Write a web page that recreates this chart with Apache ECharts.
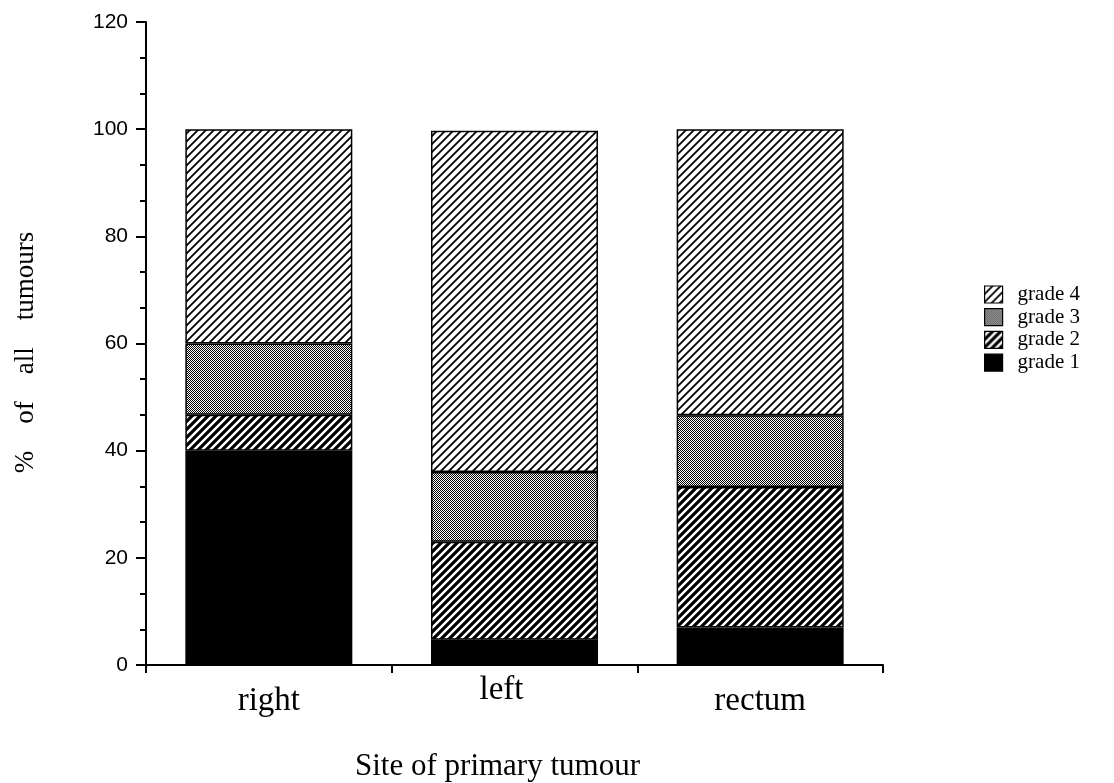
<!DOCTYPE html>
<html>
<head>
<meta charset="utf-8">
<script src="https://cdn.jsdelivr.net/npm/echarts@6/dist/echarts.min.js"></script>
<style>
  html, body { margin: 0; padding: 0; background: #fff; }
  #main { width: 1114px; height: 783px; }
</style>
</head>
<body>
<div id="main"></div>
<script>
    var categories = ['right', 'left', 'rectum'];
    var grade1 = [40, 4.7, 7];
    var grade2 = [6.7, 18.3, 26.2];
    var grade3 = [13.3, 13, 13.4];
    var grade4 = [40, 63.7, 53.4];
    var legendNames = ['grade 4', 'grade 3', 'grade 2', 'grade 1'];

    /*斜线填充*/
    function hatch(size, lw) {
        var c = document.createElement('canvas');
        c.width = size;
        c.height = size;
        var ctx = c.getContext('2d');
        ctx.fillStyle = '#fff';
        ctx.fillRect(0, 0, size, size);
        ctx.strokeStyle = '#000';
        ctx.lineWidth = lw;
        ctx.beginPath();
        ctx.moveTo(0, size); ctx.lineTo(size, 0);
        ctx.moveTo(-size / 2, size / 2); ctx.lineTo(size / 2, -size / 2);
        ctx.moveTo(size / 2, size * 1.5); ctx.lineTo(size * 1.5, size / 2);
        ctx.stroke();
        return c;
    }
    /*网点填充*/
    function checker(cell) {
        var c = document.createElement('canvas');
        c.width = cell * 2;
        c.height = cell * 2;
        var ctx = c.getContext('2d');
        ctx.fillStyle = '#fff';
        ctx.fillRect(0, 0, cell * 2, cell * 2);
        ctx.fillStyle = '#000';
        ctx.fillRect(0, 0, cell, cell);
        ctx.fillRect(cell, cell, cell, cell);
        return c;
    }

    var fills = {
        'grade 1': '#000',
        'grade 2': {image: hatch(8, 3.2), repeat: 'repeat'},
        'grade 3': {image: checker(1), repeat: 'repeat'},
        'grade 4': {image: hatch(8, 1.8), repeat: 'repeat'}
    };

    function bar(name, values) {
        return {
            name: name,
            type: 'bar',
            stack: 'all',
            barWidth: 167,
            data: values,
            itemStyle: {
                color: fills[name],
                borderColor: '#000',
                borderWidth: 1.5
            },
            emphasis: {disabled: true}
        };
    }

    // the "left" label sits a bit higher and to the left in the original
    var labelTweak = {
        left: {lineHeight: 10, padding: [0, 26, 0, 0]}
    };
    var xData = categories.map(function (c) {
        return labelTweak[c] ? {value: c, textStyle: labelTweak[c]} : c;
    });

    var serif = 'Liberation Serif';
    var sans = 'Liberation Sans';

    var myChart = echarts.init(document.getElementById('main'));
    var option = {
        animation: false,
        backgroundColor: '#fff',
        grid: {left: 146, right: 231, top: 22, bottom: 118, outerBoundsMode: 'none', containLabel: false},
        legend: {
            data: legendNames,
            orient: 'vertical',
            left: 979,
            top: 279,
            itemWidth: 18,
            itemHeight: 17,
            itemGap: 1.7,
            icon: 'rect',
            itemStyle: {borderColor: '#000', borderWidth: 1.2},
            textStyle: {fontFamily: serif, fontSize: 21, color: '#000', padding: [0, 0, 0, 10]},
            selectedMode: false
        },
        xAxis: {
            type: 'category',
            data: xData,
            name: 'Site of primary tumour',
            nameLocation: 'middle',
            nameGap: 86,
            nameTextStyle: {fontFamily: serif, fontSize: 31, color: '#000', padding: [0, 34, 0, 0]},
            axisLine: {lineStyle: {color: '#000', width: 2}},
            axisTick: {show: true, length: 8, lineStyle: {color: '#000', width: 2}},
            axisLabel: {fontFamily: serif, fontSize: 33, color: '#000', margin: 20}
        },
        yAxis: {
            type: 'value',
            min: 0,
            max: 120,
            interval: 20,
            name: '%    of    all    tumours',
            nameLocation: 'middle',
            nameGap: 107,
            nameTextStyle: {fontFamily: serif, fontSize: 27, color: '#000', padding: [0, 18, 0, 0]},
            axisLine: {show: true, lineStyle: {color: '#000', width: 2}},
            axisTick: {show: true, length: 10, lineStyle: {color: '#000', width: 2}},
            minorTick: {show: true, splitNumber: 3, length: 6, lineStyle: {color: '#000', width: 2}},
            splitLine: {show: false},
            axisLabel: {fontFamily: sans, fontSize: 21, color: '#000', margin: 18}
        },
        series: [
            bar('grade 1', grade1),
            bar('grade 2', grade2),
            bar('grade 3', grade3),
            bar('grade 4', grade4)
        ]
    };
    myChart.setOption(option);
</script>
</body>
</html>
